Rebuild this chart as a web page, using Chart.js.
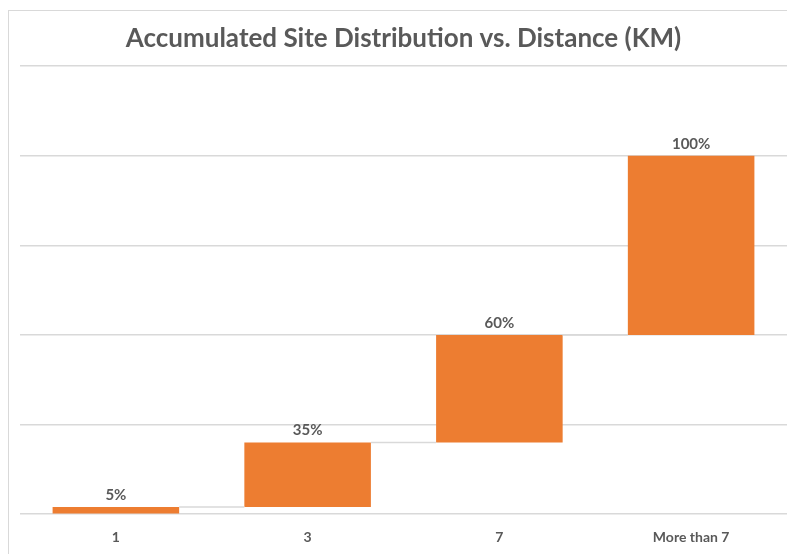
<!DOCTYPE html>
<html>
<head>
<meta charset="utf-8">
<script src="https://cdn.jsdelivr.net/npm/chart.js@4/dist/chart.umd.min.js"></script>
<style>
  html, body { margin: 0; padding: 0; background: #fff; overflow: hidden; }
  #frame { position: absolute; left: 8px; top: 10px; width: 800px; height: 560px; border: 1px solid #d9d9d9; }
  #wrap { position: absolute; left: 0; top: 0; width: 787px; height: 554px; overflow: hidden; }
</style>
</head>
<body>
<div id="frame"></div>
<div id="wrap"><canvas id="chart" width="787" height="561"></canvas></div>
<script>
// waterfall: each bar floats from start to end
const categories = ["1", "3", "7", "More than 7"];
const barStarts = [0, 2, 20, 50];
const barEnds = [2, 20, 50, 100];
const valueLabels = ["5%", "35%", "60%", "100%"];
const yMin = 0, yMax = 125, yStep = 25;

const textGray = "#595959";
const gridGray = "#d9d9d9";
const barColor = "#ED7D31";

// connector lines between bar tops + labels above bars
const waterfallExtras = {
  id: "waterfallExtras",
  afterDatasetsDraw(chart) {
    const ctx = chart.ctx;
    const bars = chart.getDatasetMeta(0).data;
    const y = chart.scales.y;
    ctx.save();
    ctx.strokeStyle = gridGray;
    ctx.lineWidth = 1.5;
    for (let i = 0; i < bars.length - 1; i++) {
      const yy = y.getPixelForValue(barEnds[i]);
      ctx.beginPath();
      ctx.moveTo(bars[i].x + bars[i].width / 2, yy);
      ctx.lineTo(bars[i + 1].x - bars[i + 1].width / 2, yy);
      ctx.stroke();
    }
    ctx.fillStyle = textGray;
    ctx.font = "bold 15px Lato";
    ctx.textAlign = "center";
    ctx.textBaseline = "middle";
    bars.forEach((b, i) => {
      ctx.fillText(valueLabels[i], b.x, y.getPixelForValue(barEnds[i]) - 12);
    });
    ctx.restore();
  }
};

new Chart(document.getElementById("chart"), {
  type: "bar",
  data: {
    labels: categories,
    datasets: [{
      data: barStarts.map((s, i) => [s, barEnds[i]]),
      backgroundColor: barColor,
      borderWidth: 0,
      barPercentage: 0.66,
      categoryPercentage: 1.0
    }]
  },
  options: {
    responsive: false,
    animation: false,
    layout: { padding: { left: 20, right: 0, top: 0, bottom: 0 } },
    plugins: {
      legend: { display: false },
      tooltip: { enabled: false },
      title: {
        display: true,
        text: "Accumulated Site Distribution vs. Distance (KM)",
        color: textGray,
        font: { family: "Lato", size: 26, weight: "bold" },
        padding: { top: 23, bottom: 12 }
      }
    },
    scales: {
      x: {
        grid: { display: false, drawTicks: false },
        border: { display: false },
        ticks: { color: textGray, font: { family: "Lato", size: 14, weight: "bold" }, padding: 15 }
      },
      y: {
        min: yMin,
        max: yMax,
        ticks: { display: false, stepSize: yStep },
        grid: { color: gridGray, lineWidth: 1.5, drawTicks: false },
        border: { display: false }
      }
    }
  },
  plugins: [waterfallExtras]
});
</script>
</body>
</html>
